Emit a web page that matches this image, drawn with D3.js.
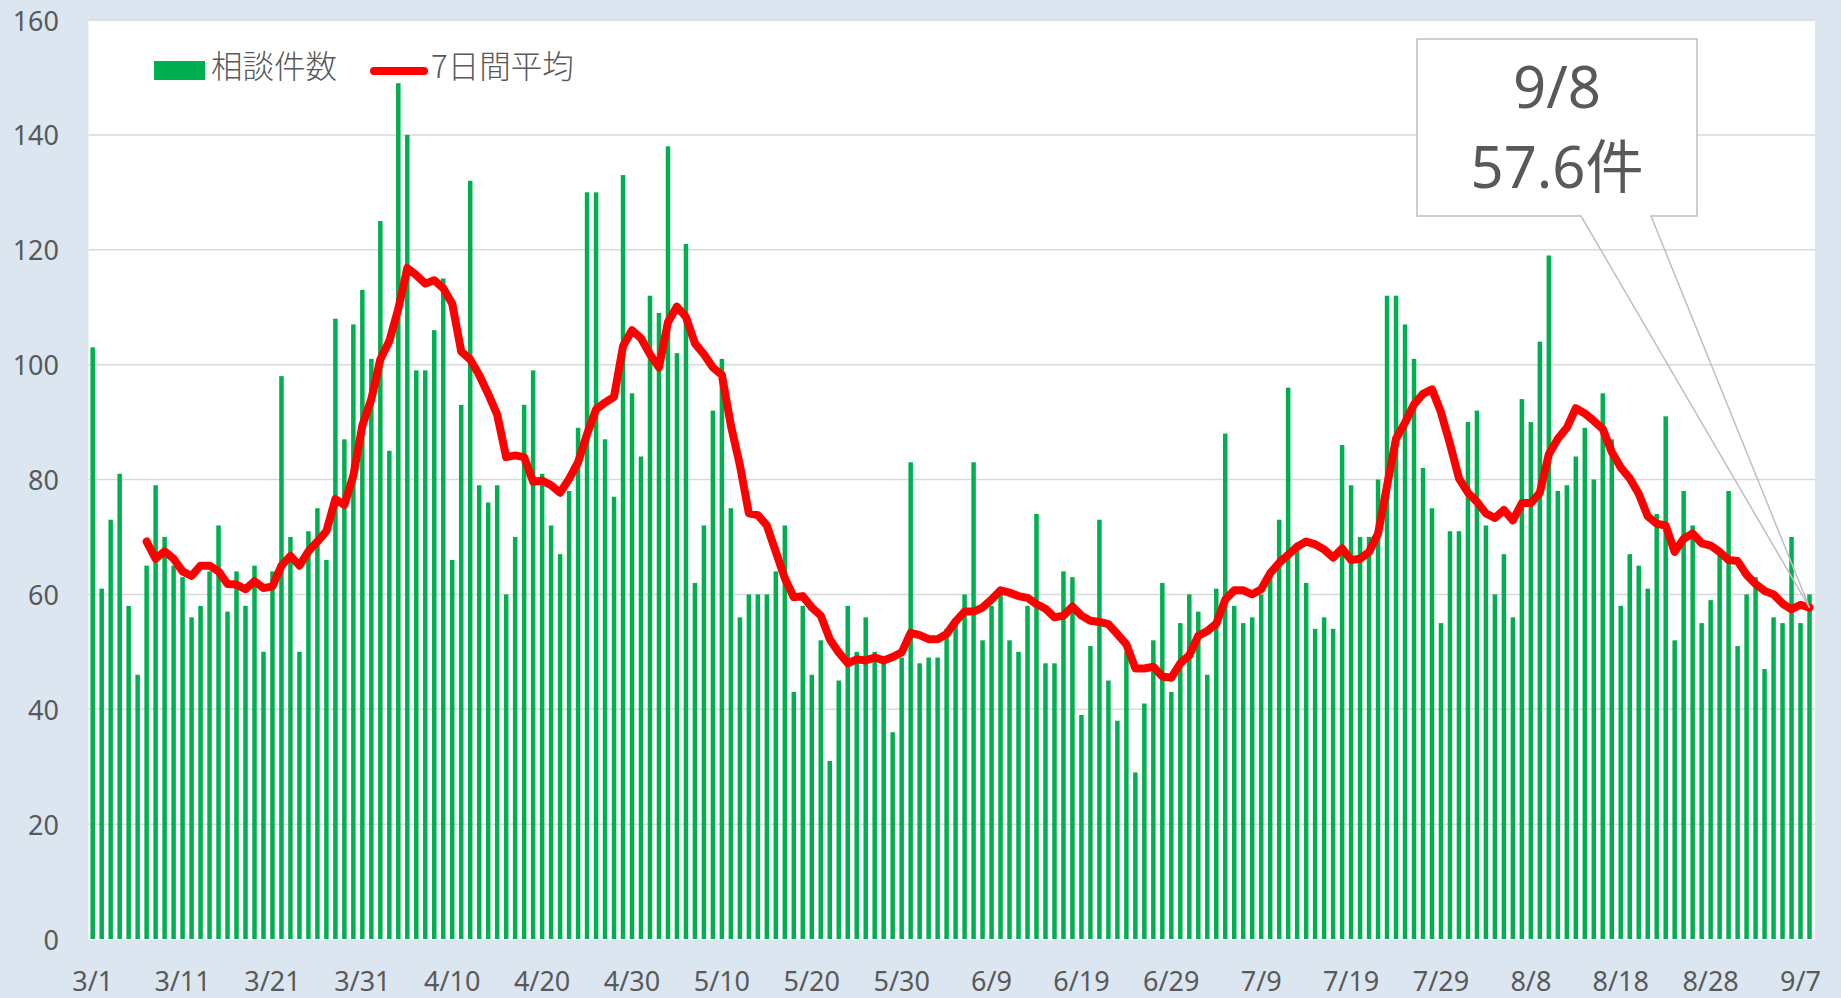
<!DOCTYPE html>
<html>
<head>
<meta charset="utf-8">
<script src="https://cdn.jsdelivr.net/npm/d3@7"></script>
<style>
  body { margin: 0; background: #dce6f1; }
  svg { display: block; }
  text { font-family: "Noto Sans", "Noto Sans CJK JP", sans-serif; fill: #595959; }
</style>
</head>
<body>
<svg id="chart" width="1841" height="998"></svg>
<script>
// daily consultations, 3/1 .. 9/8
const counts = [
  103, 61, 73, 81, 58, 46, 65, 79, 70, 65,
  63, 56, 58, 64, 72, 57, 64, 58, 65, 50,
  64, 98, 70, 50, 71, 75, 66, 108, 87, 107,
  113, 101, 125, 85, 149, 140, 99, 99, 106, 115,
  66, 93, 132, 79, 76, 79, 60, 70, 93, 99,
  81, 72, 67, 78, 89, 130, 130, 87, 77, 133,
  95, 84, 112, 109, 138, 102, 121, 62, 72, 92,
  101, 75, 56, 60, 60, 60, 64, 72, 43, 58,
  46, 52, 31, 45, 58, 50, 56, 50, 48, 36,
  49, 83, 48, 49, 49, 54, 55, 60, 83, 52,
  58, 60, 52, 50, 58, 74, 48, 48, 64, 63,
  39, 51, 73, 45, 38, 50, 29, 41, 52, 62,
  43, 55, 60, 57, 46, 61, 88, 58, 55, 56,
  60, 63, 73, 96, 69, 62, 54, 56, 54, 86,
  79, 70, 70, 80, 112, 112, 107, 101, 82, 75,
  55, 71, 71, 90, 92, 72, 60, 67, 56, 94,
  90, 104, 119, 78, 79, 84, 89, 80, 95, 87,
  58, 67, 65, 61, 74, 91, 52, 78, 72, 55,
  59, 67, 78, 51, 60, 63, 47, 56, 55, 70,
  55, 60
];

// 7-day average; starts on 3/7
const avgStart = 6;
const avg7 = [
  69.2, 66.2, 67.5, 66.2, 64, 63.2, 65, 65, 64, 61.8, 61.7, 60.9, 62.3, 61.1,
  61.4, 65, 66.7, 65, 67.5, 69.2, 71, 76.6, 75.6, 80.7,
  89.4, 94, 100.9, 104.1, 109.7, 116.8, 115.6, 114.1, 114.7, 113.3,
  110.6, 102.3, 100.9, 98.2, 94.9, 91.3, 83.9, 84.2, 83.9, 79.6,
  79.8, 79, 77.7, 80.1, 83, 87.9, 92.2, 93.4, 94.4, 103.2,
  106, 104.6, 101.8, 99.5, 107.4, 110.1, 108.3, 103.7, 101.8, 99.5,
  98.2, 89.4, 82.5, 74.1, 73.8, 72, 67.4, 62.8, 59.5, 59.7,
  57.7, 56.3, 52.2, 49.9, 48, 48.7, 48.5, 49, 48.5, 49.1,
  49.9, 53.3, 52.9, 52.2, 52.2, 53.1, 55.3, 57, 57, 57.7,
  59.1, 60.7, 60.3, 59.7, 59.4, 58.3, 57.5, 56, 56.3, 57.9,
  56.3, 55.4, 55.2, 54.8, 53.1, 51.3, 47.1, 47.1, 47.4, 45.7,
  45.5, 48, 49.4, 52.8, 53.6, 54.9, 59.1, 60.7, 60.7, 60,
  60.9, 63.7, 65.5, 66.9, 68.3, 69.2, 68.7, 67.8, 66.4, 68,
  66, 66.2, 67.4, 70.6, 78.9, 87.1, 89.9, 93.1, 94.9, 95.7,
  91.7, 86.2, 80.2, 77.7, 76.1, 74.1, 73.3, 74.7, 72.9, 75.9,
  75.9, 77.7, 84.4, 87.1, 89, 92.4, 91.5, 90.2, 88.8, 84.8,
  82.1, 80.2, 77.5, 73.6, 72.3, 72, 67.4, 69.7, 70.6, 68.9,
  68.5, 67.4, 66, 65.8, 63.4, 61.8, 60.6, 60, 58.4, 57.4,
  58.2, 57.7
];

const tickLabels = ["3/1", "3/11", "3/21", "3/31", "4/10", "4/20", "4/30", "5/10", "5/20", "5/30",
  "6/9", "6/19", "6/29", "7/9", "7/19", "7/29", "8/8", "8/18", "8/28", "9/7"];
const yTicks = [0, 20, 40, 60, 80, 100, 120, 140, 160];
const legendNames = ["相談件数", "7日間平均"];
const calloutLines = ["9/8", "57.6件"];

// day labels for each bar
const fmt = d3.utcFormat("%-m/%-d");
const days = d3.utcDay.range(new Date(Date.UTC(2020, 2, 1)), new Date(Date.UTC(2020, 8, 9))).map(fmt);

const svg = d3.select("#chart");
const plot = {left: 88.5, right: 1815, top: 20, bottom: 939};

const x = d3.scaleBand()
  .domain(days)
  .range([88.2, 1814])
  .paddingInner(0.5)
  .paddingOuter(0.25);

const y = d3.scaleLinear()
  .domain([0, 160])
  .range([plot.bottom, plot.top]);

// white plot area
svg.append("rect")
  .attr("x", plot.left).attr("y", plot.top)
  .attr("width", plot.right - plot.left).attr("height", plot.bottom - plot.top + 1)
  .attr("fill", "#fff");

// gridlines
svg.append("g")
  .selectAll("line")
  .data(yTicks.filter(d => d > 0))
  .join("line")
  .attr("x1", plot.left).attr("x2", plot.right)
  .attr("y1", d => y(d)).attr("y2", d => y(d))
  .attr("stroke", "#d9d9d9").attr("stroke-width", 1.5);

// y axis labels
svg.append("g")
  .selectAll("text")
  .data(yTicks)
  .join("text")
  .attr("x", 59).attr("y", d => y(d))
  .attr("text-anchor", "end").attr("dominant-baseline", "central")
  .attr("font-size", 27)
  .text(d => d);

// x axis labels
svg.append("g")
  .selectAll("text")
  .data(tickLabels)
  .join("text")
  .attr("x", d => x(d) + x.bandwidth() / 2).attr("y", 980)
  .attr("text-anchor", "middle").attr("dominant-baseline", "central")
  .attr("font-size", 27)
  .text(d => d);

// bars
svg.append("g")
  .selectAll("rect")
  .data(counts)
  .join("rect")
  .attr("x", (d, i) => x(days[i]))
  .attr("y", d => y(d))
  .attr("width", x.bandwidth())
  .attr("height", d => y(0) - y(d))
  .attr("fill", "#00b050");

// 7-day average line
const line = d3.line()
  .x((d, i) => x(days[i + avgStart]) + x.bandwidth() / 2)
  .y(d => y(d));

svg.append("path")
  .datum(avg7)
  .attr("d", line)
  .attr("fill", "none")
  .attr("stroke", "#ff0000")
  .attr("stroke-width", 8)
  .attr("stroke-linejoin", "round")
  .attr("stroke-linecap", "round");

// legend
const legend = svg.append("g");
legend.append("rect")
  .attr("x", 154).attr("y", 61).attr("width", 51).attr("height", 19)
  .attr("fill", "#00b050");
legend.append("text")
  .attr("x", 211).attr("y", 64)
  .attr("dominant-baseline", "central")
  .attr("font-size", 31.5)
  .style("font-family", "'Noto Sans CJK JP', sans-serif")
  .style("font-weight", 300)
  .text(legendNames[0]);
legend.append("line")
  .attr("x1", 374).attr("x2", 424).attr("y1", 71).attr("y2", 71)
  .attr("stroke", "#ff0000").attr("stroke-width", 8).attr("stroke-linecap", "round");
legend.append("text")
  .attr("x", 431).attr("y", 64)
  .attr("dominant-baseline", "central")
  .attr("font-size", 31.5)
  .style("font-family", "'Noto Sans CJK JP', sans-serif")
  .style("font-weight", 300)
  .text(legendNames[1]);

// callout for the last point
const lastIdx = avgStart + avg7.length - 1;
const tipX = x(days[lastIdx]) + x.bandwidth() / 2;
const tipY = y(avg7[avg7.length - 1]);
const box = {x0: 1417, y0: 39, x1: 1697, y1: 216};

svg.append("rect")
  .attr("x", box.x0).attr("y", box.y0)
  .attr("width", box.x1 - box.x0).attr("height", box.y1 - box.y0)
  .attr("fill", "#fff").attr("stroke", "#bfbfbf").attr("stroke-width", 1.5);

svg.append("path")
  .attr("d", `M1581,${box.y1}L${tipX},${tipY}L1651,${box.y1}`)
  .attr("fill", "none").attr("stroke", "#bfbfbf").attr("stroke-width", 1.5);
svg.append("line")
  .attr("x1", 1582).attr("x2", 1650).attr("y1", box.y1).attr("y2", box.y1)
  .attr("stroke", "#fff").attr("stroke-width", 2.5);

svg.append("g")
  .selectAll("text")
  .data(calloutLines)
  .join("text")
  .attr("x", (box.x0 + box.x1) / 2)
  .attr("y", (d, i) => 85.5 + i * 80)
  .attr("text-anchor", "middle").attr("dominant-baseline", "central")
  .attr("font-size", 58)
  .text(d => d);
</script>
</body>
</html>
